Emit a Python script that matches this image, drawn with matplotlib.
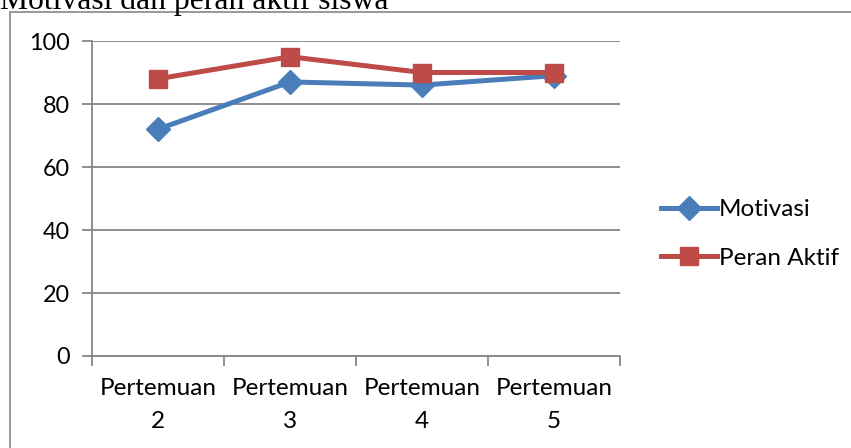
import matplotlib.pyplot as plt
from matplotlib.patches import Rectangle
from matplotlib.lines import Line2D

# data per pertemuan
pertemuan = ["Pertemuan\n2", "Pertemuan\n3", "Pertemuan\n4", "Pertemuan\n5"]
motivasi = [72, 87, 86, 89]
peran_aktif = [88, 95, 90, 90]

W, H = 851, 448
fig = plt.figure(figsize=(W / 100, H / 100), dpi=100)

plt.rcParams['font.family'] = ['Lato', 'DejaVu Sans']

grid_c = '#868686'
blue = '#4A7EBB'
red = '#BE4B48'

# chart frame (runs past the right and bottom edges)
fig.patches.append(Rectangle((10 / W, -0.2), 1.0, 1 - 12 / H + 0.2,
                             transform=fig.transFigure, fill=False,
                             edgecolor=grid_c, lw=1.2))

fig.text(0 / W, 1 - 9 / H, "Motivasi dan peran aktif siswa",
         family='Liberation Serif', fontsize=22.8, va='baseline', ha='left')

ax = fig.add_axes([92 / W, 1 - 356 / H, (620 - 92) / W, (356 - 41) / H])
x = range(len(pertemuan))
ax.plot(x, motivasi, color=blue, lw=3.6, marker='D', ms=12,
        label='Motivasi', solid_capstyle='round')
ax.plot(x, peran_aktif, color=red, lw=3.6, marker='s', ms=13,
        label='Peran Aktif', solid_capstyle='round')

ax.set_xlim(-0.5, len(pertemuan) - 0.5)
ax.set_ylim(0, 100)
ax.set_yticks(range(0, 101, 20))
ax.yaxis.grid(True, color=grid_c, lw=1.3)
ax.set_axisbelow(True)

ax.set_xticks([i - 0.5 for i in range(len(pertemuan) + 1)])
ax.set_xticklabels([])
ax.set_xticks(list(x), minor=True)
ax.set_xticklabels(pertemuan, minor=True, fontsize=17.5, linespacing=1.7)
ax.tick_params(axis='x', which='minor', length=0, pad=16)
ax.tick_params(axis='x', which='major', length=7, color=grid_c, width=1.3)
ax.tick_params(axis='y', length=7, color=grid_c, width=1.3, labelsize=16.8, pad=9)

for s in ['top', 'right']:
    ax.spines[s].set_visible(False)
for s in ['left', 'bottom']:
    ax.spines[s].set_color(grid_c)
    ax.spines[s].set_linewidth(1.3)

handles = [Line2D([], [], color=blue, lw=3.6, marker='D', ms=12),
           Line2D([], [], color=red, lw=3.6, marker='s', ms=13)]
fig.legend(handles, ['Motivasi', 'Peran Aktif'], loc='center left',
           bbox_to_anchor=(639 / W, 1 - 234 / H), frameon=False,
           fontsize=17.5, handlelength=2.3, handletextpad=0.1, labelspacing=1.15)

fig.savefig('out.png', dpi=100)
